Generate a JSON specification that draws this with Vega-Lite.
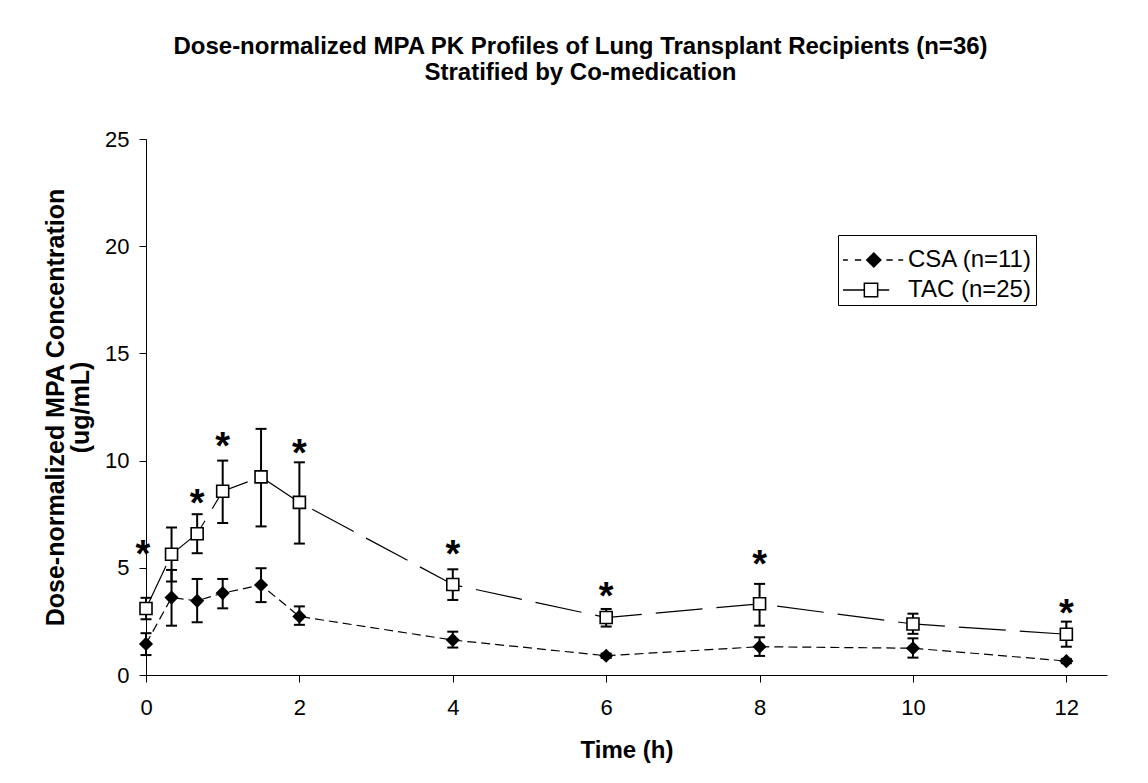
{
  "$schema": "https://vega.github.io/schema/vega-lite/v6.json",
  "autosize": {"type": "none"},
  "width": 961,
  "height": 536,
  "padding": {"left": 146, "top": 139, "right": 41, "bottom": 108},
  "background": "white",
  "config": {
    "view": {"stroke": null},
    "font": "Liberation Sans",
    "axis": {"grid": false, "domainColor": "black", "tickColor": "black", "labelColor": "black", "titleColor": "black", "labelFont": "Liberation Sans", "titleFont": "Liberation Sans"},
    "legend": {
      "orient": "none", "legendX": 692, "legendY": 96,
      "strokeColor": "black", "fillColor": "white", "padding": 3,
      "title": " ", "titleFontSize": 6, "titlePadding": 4,
      "labelFontSize": 24, "labelFont": "Liberation Sans", "labelColor": "black",
      "symbolSize": 196, "symbolStrokeWidth": 1.5,
      "labelOffset": 43, "rowPadding": 6, "labelLimit": 300
    }
  },
  "title": {
    "text": ["Dose-normalized MPA PK Profiles of Lung Transplant Recipients (n=36)", "Stratified by Co-medication"],
    "fontSize": 24,
    "fontWeight": "bold",
    "font": "Liberation Sans",
    "color": "black",
    "anchor": "middle",
    "dx": -46,
    "lineHeight": 26,
    "offset": 43
  },
  "datasets": {
    "pk": [
      {"series": "CSA (n=11)", "time": 0, "mean": 1.45, "lo": 0.93, "hi": 1.95},
      {"series": "CSA (n=11)", "time": 0.333, "mean": 3.61, "lo": 2.3, "hi": 4.9},
      {"series": "CSA (n=11)", "time": 0.667, "mean": 3.46, "lo": 2.46, "hi": 4.48},
      {"series": "CSA (n=11)", "time": 1, "mean": 3.82, "lo": 3.11, "hi": 4.48},
      {"series": "CSA (n=11)", "time": 1.5, "mean": 4.2, "lo": 3.4, "hi": 4.98},
      {"series": "CSA (n=11)", "time": 2, "mean": 2.73, "lo": 2.34, "hi": 3.2},
      {"series": "CSA (n=11)", "time": 4, "mean": 1.63, "lo": 1.28, "hi": 2.02},
      {"series": "CSA (n=11)", "time": 6, "mean": 0.9, "lo": 0.8, "hi": 1.0},
      {"series": "CSA (n=11)", "time": 8, "mean": 1.32, "lo": 0.89, "hi": 1.76},
      {"series": "CSA (n=11)", "time": 10, "mean": 1.25, "lo": 0.81, "hi": 1.71},
      {"series": "CSA (n=11)", "time": 12, "mean": 0.65, "lo": 0.55, "hi": 0.75},
      {"series": "TAC (n=25)", "time": 0, "mean": 3.1, "lo": 2.6, "hi": 3.6},
      {"series": "TAC (n=25)", "time": 0.333, "mean": 5.63, "lo": 4.36, "hi": 6.88},
      {"series": "TAC (n=25)", "time": 0.667, "mean": 6.59, "lo": 5.68, "hi": 7.5},
      {"series": "TAC (n=25)", "time": 1, "mean": 8.57, "lo": 7.09, "hi": 10.0},
      {"series": "TAC (n=25)", "time": 1.5, "mean": 9.24, "lo": 6.93, "hi": 11.48},
      {"series": "TAC (n=25)", "time": 2, "mean": 8.05, "lo": 6.13, "hi": 9.92},
      {"series": "TAC (n=25)", "time": 4, "mean": 4.22, "lo": 3.5, "hi": 4.93},
      {"series": "TAC (n=25)", "time": 6, "mean": 2.68, "lo": 2.26, "hi": 3.08},
      {"series": "TAC (n=25)", "time": 8, "mean": 3.32, "lo": 2.3, "hi": 4.25},
      {"series": "TAC (n=25)", "time": 10, "mean": 2.38, "lo": 1.92, "hi": 2.86},
      {"series": "TAC (n=25)", "time": 12, "mean": 1.9, "lo": 1.32, "hi": 2.49}
    ],
    "sig": [
      {"time": -0.04, "level": 6.0, "mark": "*"},
      {"time": 0.667, "level": 8.4, "mark": "*"},
      {"time": 1, "level": 11.06, "mark": "*"},
      {"time": 2, "level": 10.75, "mark": "*"},
      {"time": 4, "level": 6.02, "mark": "*"},
      {"time": 6, "level": 4.05, "mark": "*"},
      {"time": 8, "level": 5.53, "mark": "*"},
      {"time": 12, "level": 3.27, "mark": "*"}
    ]
  },
  "data": {"name": "pk"},
  "encoding": {
    "x": {
      "field": "time", "type": "quantitative",
      "scale": {"domain": [0, 12.53], "nice": false, "zero": false},
      "axis": {"values": [0, 2, 4, 6, 8, 10, 12], "title": "Time (h)", "titleFontSize": 24, "titleFontWeight": "bold", "titlePadding": 20, "labelFontSize": 22, "labelPadding": 15, "tickSize": 7, "labelFlush": false}
    },
    "y": {
      "field": "mean", "type": "quantitative",
      "scale": {"domain": [0, 25], "nice": false},
      "axis": {"values": [0, 5, 10, 15, 20, 25], "title": ["Dose-normalized MPA Concentration", "(ug/mL)"], "titleFontSize": 25, "titleFontWeight": "bold", "titleLineHeight": 25, "titlePadding": 11, "labelFontSize": 22, "labelPadding": 10, "tickSize": 7, "labelFlush": false}
    }
  },
  "layer": [
    {
      "transform": [{"filter": "datum.series == 'CSA (n=11)'"}],
      "mark": {"type": "line", "color": "black", "strokeWidth": 1.2, "strokeDash": [9, 5]},
      "encoding": {}
    },
    {
      "transform": [{"filter": "datum.series == 'TAC (n=25)'"}],
      "mark": {"type": "line", "color": "black", "strokeWidth": 1.2, "strokeDash": [47, 14]},
      "encoding": {}
    },
    {
      "mark": {"type": "rule", "color": "black", "strokeWidth": 2},
      "encoding": {"y": {"field": "lo", "type": "quantitative"}, "y2": {"field": "hi"}}
    },
    {
      "mark": {"type": "tick", "orient": "horizontal", "color": "black", "size": 11, "thickness": 2, "opacity": 1},
      "encoding": {"y": {"field": "lo", "type": "quantitative"}}
    },
    {
      "mark": {"type": "tick", "orient": "horizontal", "color": "black", "size": 11, "thickness": 2, "opacity": 1},
      "encoding": {"y": {"field": "hi", "type": "quantitative"}}
    },
    {
      "transform": [{"filter": "datum.series == 'CSA (n=11)'"}],
      "mark": {"type": "point", "shape": "diamond", "size": 200, "filled": true, "color": "black", "opacity": 1},
      "encoding": {}
    },
    {
      "transform": [{"filter": "datum.series == 'TAC (n=25)'"}],
      "mark": {"type": "point", "shape": "square", "size": 144, "filled": false, "fill": "white", "stroke": "black", "strokeWidth": 1.6, "opacity": 1},
      "encoding": {}
    },
    {
      "data": {"name": "sig"},
      "mark": {"type": "text", "fontSize": 38, "fontWeight": "bold", "font": "Liberation Sans", "color": "black", "baseline": "middle", "dy": 10},
      "encoding": {
        "x": {"field": "time", "type": "quantitative"},
        "y": {"field": "level", "type": "quantitative"},
        "text": {"field": "mark"}
      }
    },
    {
      "transform": [{"filter": "datum.time < 0"}],
      "mark": {"type": "point", "strokeWidth": 1.5, "opacity": 1},
      "encoding": {
        "shape": {
          "field": "series", "type": "nominal",
          "scale": {"domain": ["CSA (n=11)", "TAC (n=25)"], "range": ["M-1.43,0H-0.73M0.27,0H1.17M1.97,0L2.97,-1L3.97,0L2.97,1ZM4.77,0H5.67M6.47,0H7.17", "M-1.43,0H1.62M1.62,-0.95H3.52V0.95H1.62ZM3.52,0H5.17"]},
          "legend": {"title": " "}
        },
        "fill": {
          "field": "series", "type": "nominal",
          "scale": {"domain": ["CSA (n=11)", "TAC (n=25)"], "range": ["black", "white"]},
          "legend": {"title": " "}
        },
        "stroke": {
          "field": "series", "type": "nominal",
          "scale": {"domain": ["CSA (n=11)", "TAC (n=25)"], "range": ["black", "black"]},
          "legend": {"title": " "}
        }
      }
    }
  ]
}
